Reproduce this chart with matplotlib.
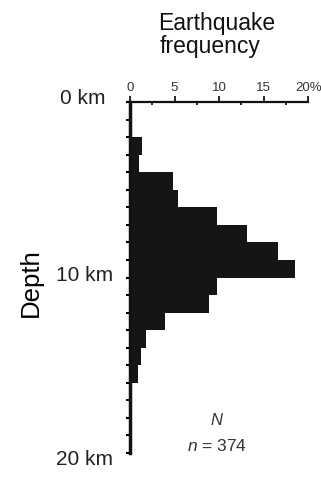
import numpy as np
import matplotlib.pyplot as plt
from matplotlib.ticker import MultipleLocator
from matplotlib.transforms import blended_transform_factory

plt.rcParams['font.family'] = ['Liberation Sans', 'DejaVu Sans']
plt.rcParams['mathtext.fontset'] = 'custom'
plt.rcParams['mathtext.it'] = 'Liberation Sans:italic'
plt.rcParams['mathtext.rm'] = 'Liberation Sans'

# depth bins (km, top edge) and frequency (%)
depth_top = [2, 3, 4, 5, 6, 7, 8, 9, 10, 11, 12, 13, 14, 15]
freq_pct = [1.3, 1.0, 4.8, 5.4, 9.8, 13.1, 16.6, 18.5, 9.8, 8.9, 3.9, 1.8, 1.2, 0.9]
x_ticks = [0, 5, 10, 15, 20]
x_ticklabels = ['0', '5', '10', '15', '20%']
depth_labels = ['0 km', '10 km', '20 km']
depth_label_pos = [0, 10, 20]
n_total = 374

fig = plt.figure(figsize=(3.21, 4.84), dpi=100)
ax = fig.add_axes([0.405, 0.064, 0.555, 0.725])

ax.barh(depth_top, freq_pct, height=1, align='edge', color='#151515', edgecolor='none')

ax.set_xlim(0, 20)
ax.set_ylim(20, 0)

# frame: only left and top
for s in ['right', 'bottom']:
    ax.spines[s].set_visible(False)
ax.spines['left'].set_linewidth(2.5)
ax.spines['top'].set_linewidth(1.6)
ax.spines['left'].set_color('#111111')
ax.spines['top'].set_color('#111111')

ax.xaxis.tick_top()
ax.set_xticks(x_ticks)
ax.set_xticklabels(x_ticklabels, fontsize=9.5, color='#333333')
ax.xaxis.set_minor_locator(MultipleLocator(2.5))
ax.tick_params(axis='x', which='major', length=4, width=1.2, pad=2, direction='out')
ax.tick_params(axis='x', which='minor', length=2.5, width=1.2, top=True, direction='in')

ax.set_yticks([])
ax.yaxis.set_minor_locator(MultipleLocator(1))
ax.tick_params(axis='y', which='minor', length=3, width=1.5, left=True)

trans = blended_transform_factory(ax.transAxes, ax.transData)
label_offsets = [(-25, 4), (-17, 2), (-17, -6)]
for d, lab, off in zip(depth_label_pos, depth_labels, label_offsets):
    ax.annotate(lab, xy=(0, d), xycoords=trans, xytext=off, textcoords='offset pixels',
                ha='right', va='center', fontsize=15, color='#222222')

fig.text(0.097, 0.417, 'Depth', rotation=90, ha='center', va='center', fontsize=18.5)
fig.text(0.676, 0.952, 'Earthquake', ha='center', va='center', fontsize=16.5, color='#111111')
fig.text(0.654, 0.903, 'frequency', ha='center', va='center', fontsize=16.5, color='#111111')

ax.text(0.49, 0.095, '$N$', transform=ax.transAxes, ha='center', va='center',
        fontsize=12, color='#333333')
ax.text(0.49, 0.02, '$n$ = %d' % n_total, transform=ax.transAxes, ha='center', va='center',
        fontsize=12.5, color='#333333')

fig.savefig('out.png', dpi=100)
